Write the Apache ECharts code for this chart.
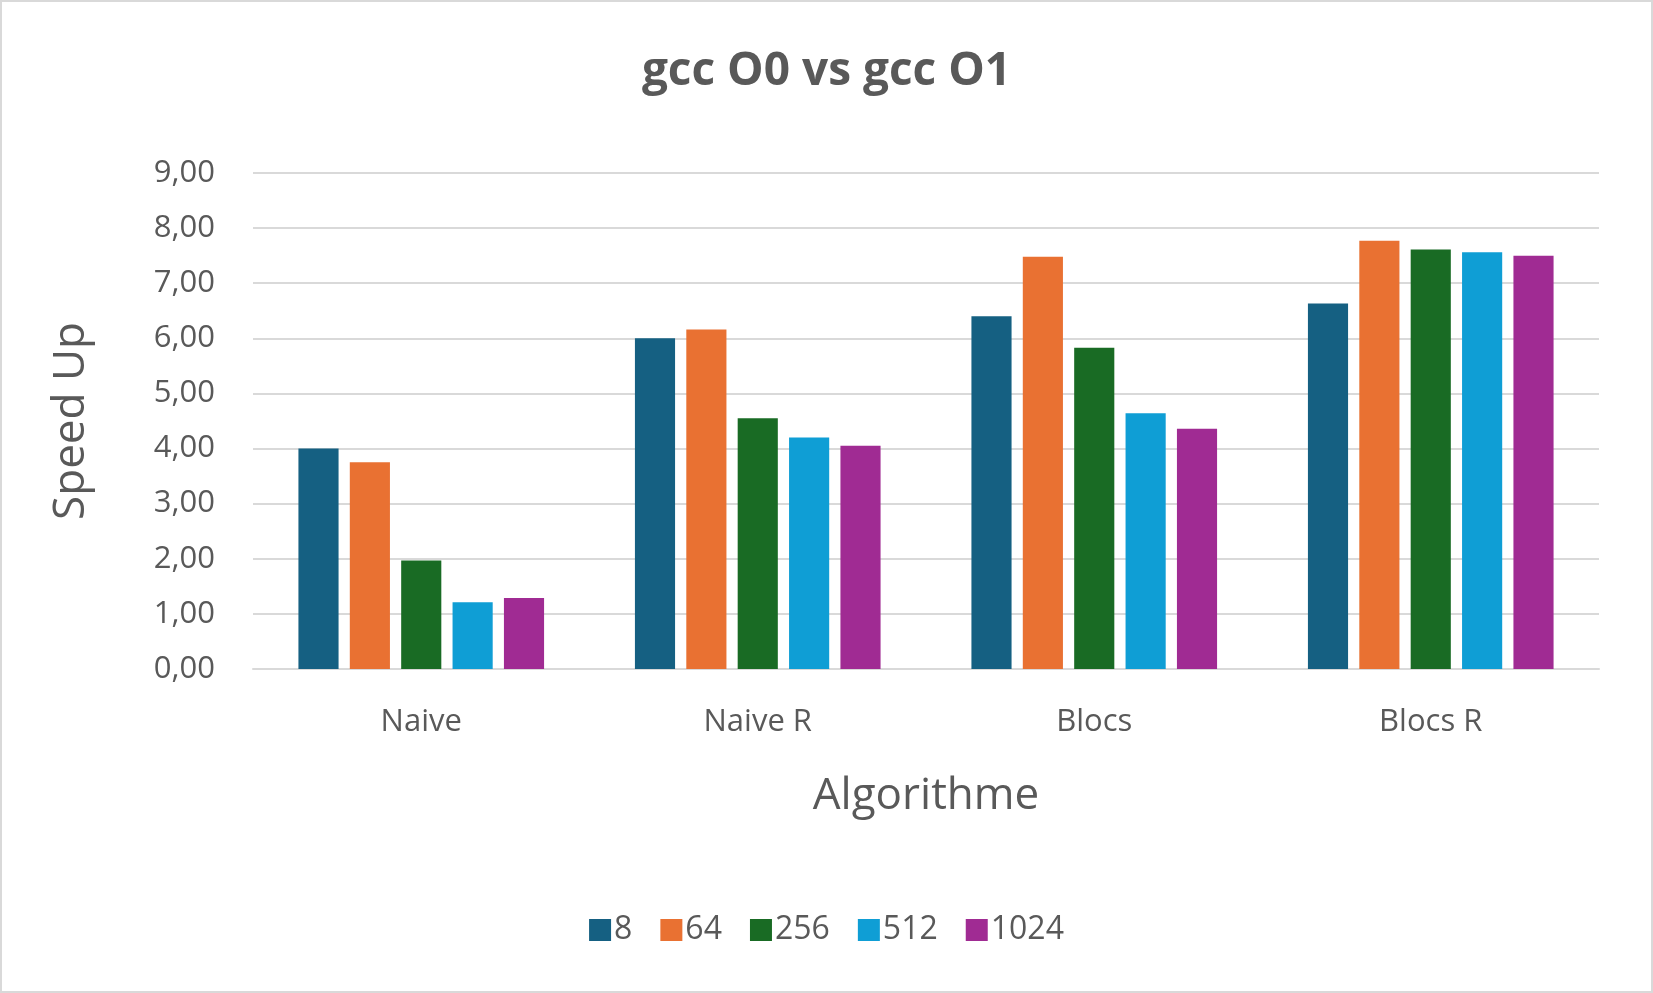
<!DOCTYPE html>
<html><head><meta charset="utf-8">
<script src="https://cdn.jsdelivr.net/npm/echarts@6/dist/echarts.min.js"></script>
<style>html,body{margin:0;padding:0;background:#fff}#c{width:1653px;height:993px;box-sizing:border-box;border:2px solid #d9d9d9}</style>
</head><body><div id="c"></div>
<script>
var categories = ['Naive', 'Naive R', 'Blocs', 'Blocs R'];
var seriesNames = ['8', '64', '256', '512', '1024'];
var s8 = [4.00, 6.00, 6.40, 6.63];
var s64 = [3.75, 6.16, 7.48, 7.77];
var s256 = [1.97, 4.55, 5.83, 7.61];
var s512 = [1.21, 4.20, 4.64, 7.56];
var s1024 = [1.29, 4.05, 4.36, 7.50];
var colors = ['#156082', '#E97132', '#196B24', '#0F9ED5', '#A02B93'];
var values = [s8, s64, s256, s512, s1024];

var chart = echarts.init(document.getElementById('c'));
var font = 'Open Sans';
chart.setOption({
  animation: false,
  color: colors,
  textStyle: { fontFamily: font },
  title: {
    text: 'gcc O0 vs gcc O1', left: 'center', top: 42,
    textStyle: { fontSize: 46, fontWeight: 'bold', color: '#595959', fontFamily: font }
  },
  legend: {
    bottom: 40, left: 'center', itemWidth: 22, itemHeight: 22, itemGap: 28,
    icon: 'rect',
    textStyle: { fontSize: 32, color: '#595959', padding: [0, 0, 0, -2] },
    data: seriesNames
  },
  grid: { left: 251, right: 52, top: 171, bottom: 322 },
  xAxis: {
    type: 'category', data: categories,
    name: 'Algorithme', nameLocation: 'middle', nameGap: 105,
    nameTextStyle: { fontSize: 44, color: '#595959' },
    axisLine: { lineStyle: { color: '#d9d9d9', width: 2 } },
    axisTick: { show: false },
    axisLabel: { fontSize: 31, color: '#595959', margin: 38 }
  },
  yAxis: {
    type: 'value', min: 0, max: 9, interval: 1,
    name: 'Speed Up', nameLocation: 'middle', nameGap: 160,
    nameTextStyle: { fontSize: 44, color: '#595959' },
    axisLabel: { fontSize: 31, color: '#595959', margin: 38,
      formatter: function (v) { return v.toFixed(2).replace('.', ','); } },
    splitLine: { lineStyle: { color: '#d9d9d9', width: 2 } }
  },
  series: seriesNames.map(function (n, i) {
    return { name: n, type: 'bar', data: values[i], barGap: '28%', barCategoryGap: '27%' };
  })
});
</script></body></html>
